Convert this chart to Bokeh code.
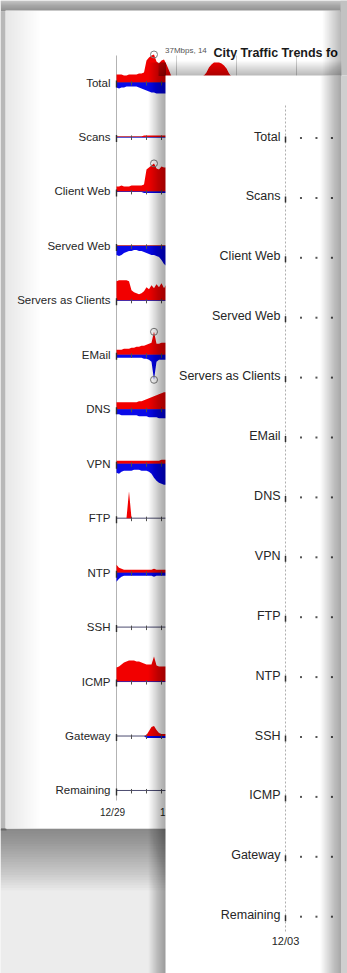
from bokeh.plotting import figure
from bokeh.models import Range1d
from bokeh.core.properties import value
from bokeh.embed import file_html
from bokeh.resources import INLINE

# ---------------- data ----------------
ROWS = ["Total", "Scans", "Client Web", "Served Web", "Servers as Clients", "EMail",
        "DNS", "VPN", "FTP", "NTP", "SSH", "ICMP", "Gateway", "Remaining"]

HOURS = [0, 1, 2, 3, 4, 5, 6, 7, 8, 9, 10, 11, 12, 13, 14, 15, 16, 17, 18, 19, 20]
TOTAL_HOURS = [0, 1, 2, 3, 4, 5, 6, 7, 8, 9, 10, 11, 12, 13, 14, 15, 16, 17, 18, 19, 20,
               21, 22, 23, 24, 25, 26, 27, 28, 29, 30, 31, 32, 33, 34, 35, 36, 37, 38,
               39, 40, 41, 42, 43, 44, 45, 46, 47, 48]

TOTAL_IN = [8, 8, 8, 7, 7, 8, 8, 8, 8, 9, 9, 10, 22, 25, 27, 28, 21, 19, 22, 23, 18,
            12, 6, 4, 4, 4, 4, 4, 4, 5, 5, 5, 5, 6, 6, 7, 10, 15, 18, 20, 20, 20, 19,
            17, 14, 9, 6, 4, 4]
TOTAL_OUT = [5, 6, 5, 5, 4, 4, 4, 4, 4, 5, 6, 7, 8, 9, 10, 10, 11, 11, 11, 11, 11,
             11, 11, 10, 10, 10, 9, 9, 9, 9, 9, 9, 9, 9, 9, 10, 10, 10, 11, 11, 11, 11,
             10, 10, 10, 9, 9, 9, 9]

SCANS_IN = [0.5, 0.5, 0.5, 0.5, 0.5, 0.5, 0.5, 0.5, 0.5, 0.5, 0.5, 1.5, 1.5, 1.5, 1.5,
            1.5, 1.5, 1.5, 1.5, 1.5, 1.5]
SCANS_OUT = [0.5, 0.5, 0.5, 0.5, 0.5, 0.5, 0.5, 0.5, 0.5, 0.5, 0.5, 0.5, 0.5, 0.5, 0.5,
             0.5, 0.5, 0.5, 0.5, 0.5, 0.5]
CLIENT_WEB_IN = [5, 5, 6, 5, 5, 5, 6, 6, 6, 6, 6, 7, 22, 24, 26, 28, 23, 22, 25, 24, 24]
CLIENT_WEB_OUT = [0.5, 0.5, 0.5, 0.5, 0.5, 0.5, 0.5, 0.5, 0.5, 0.5, 0.5, 1.5, 1.5, 1.5,
                  1.5, 1.5, 1.5, 1.5, 1.5, 1.5, 1.5]
SERVED_WEB_IN = [0.5, 0.5, 0.5, 0.5, 0.5, 0.5, 0.5, 0.5, 0.5, 0.5, 0.5, 0.5, 0.5, 0.5,
                 0.5, 0.5, 0.5, 0.5, 0.5, 0.5, 0.5]
SERVED_WEB_OUT = [9, 10, 9, 7, 6, 5, 5, 4, 4, 5, 5, 6, 7, 8, 9, 9, 10, 11, 14, 18, 20]
SERVERS_IN = [19, 20, 20, 20, 20, 19, 10, 8, 7, 6, 7, 9, 13, 11, 15, 12, 16, 13, 17, 12, 16]
SERVERS_OUT = [0.5, 0.5, 0.5, 0.5, 0.5, 0.5, 0.5, 0.5, 0.5, 0.5, 0.5, 0.5, 0.5, 0.5,
               0.5, 0.5, 0.5, 0.5, 0.5, 0.5, 0.5]
EMAIL_IN = [5, 5, 5, 6, 6, 6, 7, 7, 8, 8, 9, 9, 10, 11, 12, 23, 11, 11, 12, 12, 12]
EMAIL_OUT = [3, 3, 3, 3, 3, 3, 3, 3, 3, 3, 3, 4, 4, 5, 7, 25, 7, 5, 5, 5, 5]
DNS_IN = [7, 7, 7, 7, 7, 7, 7, 7, 7, 8, 8, 9, 10, 11, 12, 13, 14, 15, 16, 17, 17]
DNS_OUT = [5, 5, 6, 6, 6, 6, 6, 6, 6, 7, 7, 7, 7, 8, 8, 8, 8, 9, 9, 9, 9]
VPN_IN = [3, 3, 3, 3, 3, 3, 3, 3, 3, 3, 3, 3, 3, 3, 3, 3, 3, 3, 4, 4, 4]
VPN_OUT = [9, 10, 8, 7, 7, 7, 7, 6, 6, 6, 7, 7, 7, 8, 10, 14, 17, 19, 20, 21, 21]
FTP_IN = [0, 0, 0, 0, 0, 27, 0, 0, 0, 0, 0, 0, 0, 0, 0, 0, 0, 0, 0, 0, 0]
FTP_OUT = [0, 0, 0, 0, 0, 0, 0, 0, 0, 0, 0, 0, 0, 0, 0, 0, 0, 0, 0, 0, 0]
NTP_IN = [8, 5, 4, 3, 3, 3, 3, 3, 3, 3, 3, 3, 3, 3, 3, 4, 3, 3, 3, 3, 3]
NTP_OUT = [9, 6, 4, 3, 3, 3, 3, 3, 3, 3, 3, 3, 3, 3, 3, 4, 3, 3, 3, 3, 3]
SSH_IN = [0, 0, 0, 0, 0, 0, 0, 0, 0, 0, 0, 0, 0, 0, 0, 0, 0, 0, 0, 0, 0]
SSH_OUT = [0, 0, 0, 0, 0, 0, 0, 0, 0, 0, 0, 0, 0, 0, 0, 0, 0, 0, 0, 0, 0]
ICMP_IN = [14, 15, 17, 19, 20, 21, 21, 21, 20, 20, 19, 18, 17, 17, 17, 25, 16, 15, 15, 15, 15]
ICMP_OUT = [0.5, 0.5, 0.5, 0.5, 0.5, 0.5, 0.5, 0.5, 0.5, 0.5, 0.5, 0.5, 0.5, 0.5, 0.5,
            0.5, 0.5, 0.5, 0.5, 0.5, 0.5]
GATEWAY_IN = [0, 0, 0, 0, 0, 0, 0, 0, 0, 0, 0, 0, 1, 5, 9, 10, 6, 3, 2, 2, 2]
GATEWAY_OUT = [0, 0, 0, 0, 0, 0, 0, 0, 0, 0, 0, 0, 2, 2, 2, 2, 2, 2, 2, 2, 2]
REMAINING_IN = [0, 0, 0, 0, 0, 0, 0, 0, 0, 0, 0, 0, 0, 0, 0, 0, 0, 0, 0, 0, 0]
REMAINING_OUT = [0, 0, 0, 0, 0, 0, 0, 0, 0, 0, 0, 0, 0, 0, 0, 0, 0, 0, 0, 0, 0]

SERIES = {
    "Total": (TOTAL_HOURS, TOTAL_IN, TOTAL_OUT),
    "Scans": (HOURS, SCANS_IN, SCANS_OUT),
    "Client Web": (HOURS, CLIENT_WEB_IN, CLIENT_WEB_OUT),
    "Served Web": (HOURS, SERVED_WEB_IN, SERVED_WEB_OUT),
    "Servers as Clients": (HOURS, SERVERS_IN, SERVERS_OUT),
    "EMail": (HOURS, EMAIL_IN, EMAIL_OUT),
    "DNS": (HOURS, DNS_IN, DNS_OUT),
    "VPN": (HOURS, VPN_IN, VPN_OUT),
    "FTP": (HOURS, FTP_IN, FTP_OUT),
    "NTP": (HOURS, NTP_IN, NTP_OUT),
    "SSH": (HOURS, SSH_IN, SSH_OUT),
    "ICMP": (HOURS, ICMP_IN, ICMP_OUT),
    "Gateway": (HOURS, GATEWAY_IN, GATEWAY_OUT),
    "Remaining": (HOURS, REMAINING_IN, REMAINING_OUT),
}
MARKED_IN = ["Total", "Client Web", "EMail"]
MARKED_OUT = ["EMail"]

SHEET1_DATES = ["12/29", "12/30"]
SHEET1_DATE_HOURS = [0, 24]
SHEET1_DAY_LINES = [24, 48, 72]
SHEET2_DATES = ["12/03"]
TICK_HOURS = [6, 12, 18]
TITLE = "City Traffic Trends fo"
PEAK_NOTE = "37Mbps, 14"

# ---------------- layout ----------------
W, H = 347, 973
FONT = "Liberation Sans"
RED = "#f20000"
BLUE = "#0a0ae8"
INK = "#262626"

# sheet 1 (back)
S1 = dict(left=5, top=10, right=340, bottom=828, x0=116, pxh=2.5, y0=82, dy=54.46, k=1.0)
# sheet 2 (front)
S2 = dict(left=165, top=75, right=347, bottom=973, x0=285, pxh=2.58, y0=136, dy=59.9, k=1.0)

p = figure(width=W, height=H, x_range=Range1d(0, W), y_range=Range1d(H, 0),
           output_backend="svg", toolbar_location=None, min_border=0,
           x_axis_location=None, y_axis_location=None)
p.grid.visible = False
p.outline_line_color = None
p.background_fill_color = "#ececec"
p.border_fill_color = "#ececec"

p.extra_x_ranges = {
    "s1x": Range1d(-S1["x0"] / S1["pxh"], (W - S1["x0"]) / S1["pxh"]),
    "s2x": Range1d(-S2["x0"] / S2["pxh"], (W - S2["x0"]) / S2["pxh"]),
}
yr = {}
for sheet, S in (("s1", S1), ("s2", S2)):
    for i, name in enumerate(ROWS):
        Y = S["y0"] + S["dy"] * i
        yr[f"{sheet}r{i}"] = Range1d((Y - H) / S["k"], Y / S["k"])
p.extra_y_ranges = yr


def shade(x0, x1, y0, y1, dark, amax, n=24, color="black"):
    """Smooth shadow: n nested rectangles that all touch the dark edge."""
    L, R, T, B = [], [], [], []
    for k in range(1, n + 1):
        f = k / n
        l, r, t, b = x0, x1, y0, y1
        if dark == "right":
            l = x1 - (x1 - x0) * f
        elif dark == "left":
            r = x0 + (x1 - x0) * f
        elif dark == "bottom":
            t = y1 - (y1 - y0) * f
        else:
            b = y0 + (y1 - y0) * f
        L.append(l); R.append(r); T.append(t); B.append(b)
    p.quad(left=L, right=R, top=T, bottom=B, fill_color=color, fill_alpha=amax / n,
           line_color=None)


# background around the sheets
p.quad(left=[0], right=[W], top=[0], bottom=[11], fill_color="#c8c8c8", line_color=None)
shade(0, W, 0, 11, "bottom", 0.25)
p.quad(left=[0], right=[6], top=[11], bottom=[830], fill_color="#b8b8b8", line_color=None)
shade(0, 170, 828, 890, "top", 0.5)

# ---------------- sheet 1 ----------------
p.quad(left=[S1["left"]], right=[S1["right"]], top=[S1["top"]], bottom=[S1["bottom"]],
       fill_color="white", line_color=None)
shade(S1["left"], 40, S1["top"], S1["bottom"], "left", 0.08)

# axis line and day lines
p.segment(x0=[0], x1=[0], y0=[55], y1=[800], x_range_name="s1x",
          line_color="#a0a0a0", line_width=0.8)
p.segment(x0=SHEET1_DAY_LINES, x1=SHEET1_DAY_LINES, y0=[55] * 3, y1=[800] * 3,
          x_range_name="s1x", line_color="#c4c4c4", line_width=0.8)

for i, name in enumerate(ROWS):
    hrs, vin, vout = SERIES[name]
    rn = f"s1r{i}"
    p.segment(x0=[0], x1=[95], y0=[0], y1=[0], x_range_name="s1x", y_range_name=rn,
              line_color="#4c4c70", line_width=1)
    p.varea(x=hrs, y1=[0] * len(hrs), y2=vin, x_range_name="s1x", y_range_name=rn,
            fill_color=RED)
    p.varea(x=hrs, y1=[-v for v in vout], y2=[0] * len(hrs), x_range_name="s1x",
            y_range_name=rn, fill_color=BLUE)
    p.segment(x0=TICK_HOURS, x1=TICK_HOURS, y0=[1.5] * 3, y1=[-3] * 3,
              x_range_name="s1x", y_range_name=rn, line_color="#505050", line_width=1)
    p.segment(x0=[0], x1=[0], y0=[2], y1=[-5], x_range_name="s1x", y_range_name=rn,
              line_color="#303030", line_width=1.4)
    p.text(x=[0], y=[0], text=[name], x_range_name="s1x", y_range_name=rn,
           x_offset=-6, text_align="right", text_baseline="middle",
           text_font=value(FONT), text_font_size="11.5px", text_color=INK)
    if name in MARKED_IN:
        j = max(range(len(vin)), key=lambda q: vin[q])
        p.scatter(x=[hrs[j]], y=[vin[j]], x_range_name="s1x", y_range_name=rn,
                  marker="circle", size=7, fill_color=None, line_color="#808080",
                  line_width=1)
        if name == "Total":
            p.text(x=[hrs[j]], y=[vin[j]], text=[PEAK_NOTE], x_range_name="s1x",
                   y_range_name=rn, x_offset=11, y_offset=-4, text_align="left",
                   text_baseline="middle", text_font=value(FONT),
                   text_font_size="8px", text_color="#555555")
    if name in MARKED_OUT:
        j = max(range(len(vout)), key=lambda q: vout[q])
        p.scatter(x=[hrs[j]], y=[-vout[j]], x_range_name="s1x", y_range_name=rn,
                  marker="circle", size=7, fill_color=None, line_color="#808080",
                  line_width=1)

p.text(x=SHEET1_DATE_HOURS, y=[812, 812], text=SHEET1_DATES, x_range_name="s1x",
       x_offset=-4, text_align="center", text_baseline="middle",
       text_font=value(FONT), text_font_size="10px", text_color=INK)
p.text(x=[213], y=[52], text=[TITLE], text_align="left", text_baseline="middle",
       text_font=value(FONT), text_font_size="12.5px", text_font_style="bold",
       text_color="#1a1a1a")

# sheet 1 right edge curl
shade(322, 341, 10, 75, "right", 0.32)
p.quad(left=[340], right=[W], top=[0], bottom=[76], fill_color="#c2c2c2", line_color=None)

# shadows cast by sheet 2
shade(148, 165.5, 62, H, "right", 0.34)
shade(158, 341, 60, 75.5, "bottom", 0.28)

# ---------------- sheet 2 ----------------
p.quad(left=[S2["left"]], right=[S2["right"]], top=[S2["top"]], bottom=[S2["bottom"]],
       fill_color="white", line_color=None)
p.segment(x0=[0], x1=[0], y0=[105], y1=[932], x_range_name="s2x",
          line_color="#9a9a9a", line_width=0.8, line_dash="2 2")
for i, name in enumerate(ROWS):
    rn = f"s2r{i}"
    p.segment(x0=[0], x1=[0], y0=[0], y1=[-6], x_range_name="s2x", y_range_name=rn,
              line_color="#303030", line_width=1.5)
    p.scatter(x=TICK_HOURS, y=[-1.5] * 3, x_range_name="s2x", y_range_name=rn,
              marker="square", size=2, fill_color="#555555", line_color=None)
    p.text(x=[0], y=[0], text=[name], x_range_name="s2x", y_range_name=rn,
           x_offset=-5, text_align="right", text_baseline="middle",
           text_font=value(FONT), text_font_size="12.5px", text_color=INK)
p.text(x=[0], y=[940], text=SHEET2_DATES, x_range_name="s2x", text_align="center",
       text_baseline="middle", text_font=value(FONT), text_font_size="11px",
       text_color=INK)

# sheet 2 right edge curl
shade(320, 341, 75, H, "right", 0.38)
p.quad(left=[341], right=[W], top=[75], bottom=[H], fill_color="#cfcfcf", line_color=None)

open("out.html", "w").write(file_html(p, INLINE))
